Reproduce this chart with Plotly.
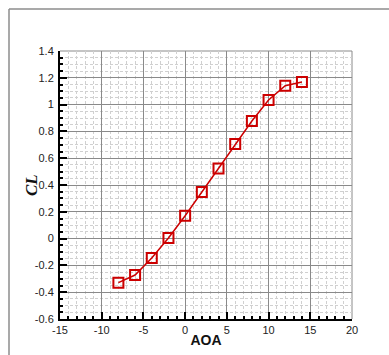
import plotly.graph_objects as go

aoa = [-8, -6, -4, -2, 0, 2, 4, 6, 8, 10, 12, 14]
cl = [-0.329, -0.272, -0.145, 0.004, 0.171, 0.348, 0.524, 0.706, 0.878, 1.034, 1.141, 1.169]

x_ticks = [-15, -10, -5, 0, 5, 10, 15, 20]
x_tick_text = ["-15", "-10", "-5", "0", "5", "10", "15", "20"]
y_ticks = [-0.6, -0.4, -0.2, 0, 0.2, 0.4, 0.6, 0.8, 1, 1.2, 1.4]
y_tick_text = ["-0.6", "-0.4", "-0.2", "0", "0.2", "0.4", "0.6", "0.8", "1", "1.2", "1.4"]

fig = go.Figure()
fig.add_trace(go.Scatter(
    x=aoa, y=cl, mode="lines+markers",
    line=dict(color="#cc0000", width=1.5),
    marker=dict(symbol="square-open", size=10, color="#cc0000", line=dict(width=2, color="#cc0000")),
    showlegend=False,
))

L, R, T, B = 60, 37, 51, 36
W, H = 389, 355
pw, ph = W - L - R, H - T - B

def ux(px):
    return (px - L) / pw

def vy(py):
    return 1 - (py - T) / ph

fig.update_layout(
    width=W, height=H,
    margin=dict(l=L, r=R, t=T, b=B, pad=0, autoexpand=False),
    paper_bgcolor="white", plot_bgcolor="white",
    font=dict(family="Liberation Sans, Arial", size=11, color="#222"),
    xaxis=dict(
        range=[-15, 20], tickvals=x_ticks, ticktext=x_tick_text, ticks="inside", ticklen=7, tickwidth=2, tickcolor="black",
        showline=True, linecolor="black", linewidth=2, automargin=False,
        showgrid=True, gridcolor="#8a8a8a", gridwidth=1, zeroline=False,
        minor=dict(dtick=1, tick0=0, ticks="inside", ticklen=3, tickcolor="black",
                   showgrid=True, gridcolor="#d0d0d0", griddash="3px,2px", gridwidth=1),
        title=dict(text="<b>AOA</b>", font=dict(family="Liberation Sans, Arial", size=14, color="#111"), standoff=0),
        ticklabelstandoff=0,
    ),
    yaxis=dict(
        range=[-0.6, 1.4], tickvals=y_ticks, ticktext=y_tick_text, ticks="inside", ticklen=7, tickwidth=2, tickcolor="black",
        showline=True, linecolor="black", linewidth=2, automargin=False,
        showgrid=True, gridcolor="#8a8a8a", gridwidth=1, zeroline=False,
        minor=dict(dtick=0.05, tick0=0, ticks="inside", ticklen=3, tickcolor="black",
                   showgrid=True, gridcolor="#d0d0d0", griddash="3px,2px", gridwidth=1),
        ticklabelstandoff=2,
    ),
    annotations=[
        dict(text="<b><i>CL</i></b>", xref="paper", yref="paper", x=ux(31), y=vy(185),
             xanchor="center", yanchor="middle", textangle=-90, showarrow=False,
             font=dict(family="Liberation Serif, Times New Roman", size=17, color="#111")),
    ],
    shapes=[
        dict(type="line", xref="paper", yref="paper", x0=ux(9), x1=ux(389), y0=vy(9), y1=vy(9),
             line=dict(color="#8c8c8c", width=1.5)),
        dict(type="line", xref="paper", yref="paper", x0=ux(9), x1=ux(9), y0=vy(9), y1=vy(356),
             line=dict(color="#8c8c8c", width=1.5)),
        dict(type="line", xref="paper", yref="paper", x0=1, x1=1, y0=0, y1=1,
             line=dict(color="#8a8a8a", width=1), layer="below"),
        dict(type="line", xref="paper", yref="paper", x0=0, x1=1, y0=1, y1=1,
             line=dict(color="#8a8a8a", width=1), layer="below"),
    ],
)

fig.write_html("out.html")
